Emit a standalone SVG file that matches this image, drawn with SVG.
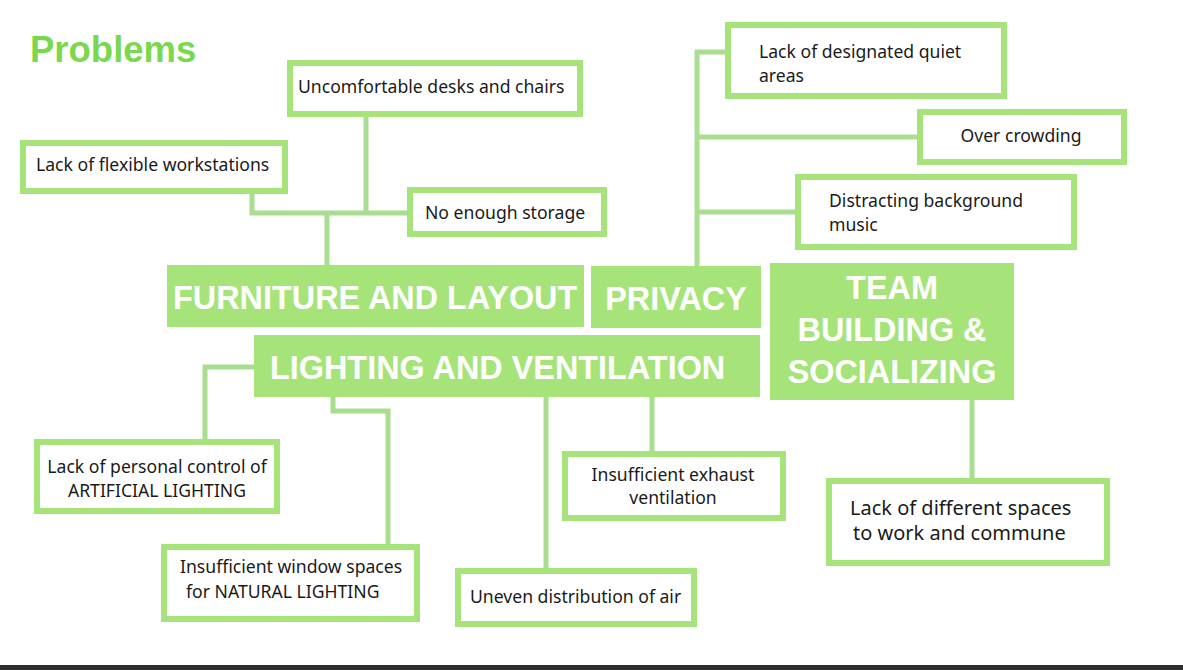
<svg xmlns="http://www.w3.org/2000/svg" width="1183" height="670" viewBox="0 0 1183 670">
<style>
.box{fill:#fff;stroke:#a6e47b;stroke-width:6}
.hdr{fill:#a6e47a}
.t{font-family:"Noto Sans","Open Sans",sans-serif;font-size:17.6px;fill:#1a1a1a}
.h{font-family:"Liberation Sans",Arial,sans-serif;font-size:32.4px;font-weight:bold;fill:#fff}
.c{fill:none;stroke:#a9de90;stroke-width:5}
</style>
<rect width="1183" height="670" fill="#fff"/>
<text x="30" y="62" font-family="Liberation Sans,Arial,sans-serif" font-size="36.5" font-weight="bold" fill="#7ad84e">Problems</text>
<g id="connectors">
<path class="c" d="M366 117V213M252 194V213H407M327 213V265"/>
<path class="c" d="M697 266V52H725M697 137H917M697 212H795"/>
<path class="c" d="M254 367H205V439M333 397V411H388V544M546 397V568M652 397V451"/>
<path class="c" d="M972 400V478"/>
</g>
<g id="n-furniture"><rect class="hdr" x="167" y="265" width="417" height="62"/><text class="h" x="173" y="309">FURNITURE AND LAYOUT</text></g>
<g id="n-privacy"><rect class="hdr" x="591" y="266" width="170" height="62" fill="#aae680"/><text class="h" x="676" y="310" text-anchor="middle">PRIVACY</text></g>
<g id="n-lighting"><rect class="hdr" x="254" y="335" width="506" height="62"/><text class="h" x="270" y="379">LIGHTING AND VENTILATION</text></g>
<g id="n-team"><rect class="hdr" x="770" y="263" width="244" height="137" fill="#9fe172"/><text class="h" text-anchor="middle"><tspan x="892" y="299">TEAM</tspan><tspan x="892" y="341">BUILDING &amp;</tspan><tspan x="892" y="383">SOCIALIZING</tspan></text></g>
<g id="n-desks"><rect class="box" x="290" y="63" width="290" height="51"/><text class="t" x="298" y="93">Uncomfortable desks and chairs</text></g>
<g id="n-flex"><rect class="box" x="23" y="143" width="262" height="48"/><text class="t" x="36" y="171">Lack of flexible workstations</text></g>
<g id="n-storage"><rect class="box" x="410" y="190" width="194" height="44"/><text class="t" x="425" y="219">No enough storage</text></g>
<g id="n-quiet"><rect class="box" x="728" y="25" width="276" height="71"/><text class="t"><tspan x="759" y="58">Lack of designated quiet</tspan><tspan x="759" y="82">areas</tspan></text></g>
<g id="n-crowd"><rect class="box" x="920" y="112" width="204" height="50"/><text class="t" x="1021" y="142" text-anchor="middle">Over crowding</text></g>
<g id="n-music"><rect class="box" x="798" y="177" width="276" height="70"/><text class="t"><tspan x="829" y="207">Distracting background</tspan><tspan x="829" y="231">music</tspan></text></g>
<g id="n-artificial"><rect class="box" x="37" y="442" width="240" height="69"/><text class="t" text-anchor="middle"><tspan x="157" y="473">Lack of personal control of</tspan><tspan x="157" y="497">ARTIFICIAL LIGHTING</tspan></text></g>
<g id="n-window"><rect class="box" x="164" y="547" width="253" height="72"/><text class="t"><tspan x="180" y="573">Insufficient window spaces</tspan><tspan x="186" y="598">for NATURAL LIGHTING</tspan></text></g>
<g id="n-air"><rect class="box" x="458" y="571" width="236" height="53"/><text class="t" x="470" y="603">Uneven distribution of air</text></g>
<g id="n-exhaust"><rect class="box" x="565" y="454" width="218" height="64"/><text class="t" text-anchor="middle"><tspan x="673" y="481">Insufficient exhaust</tspan><tspan x="673" y="504">ventilation</tspan></text></g>
<g id="n-spaces"><rect class="box" x="829" y="481" width="278" height="82"/><text class="t" style="font-size:20px"><tspan x="850" y="515">Lack of different spaces</tspan><tspan x="853" y="540">to work and commune</tspan></text></g>
<rect x="0" y="665" width="1183" height="5" fill="#2d2d2d"/>
</svg>
